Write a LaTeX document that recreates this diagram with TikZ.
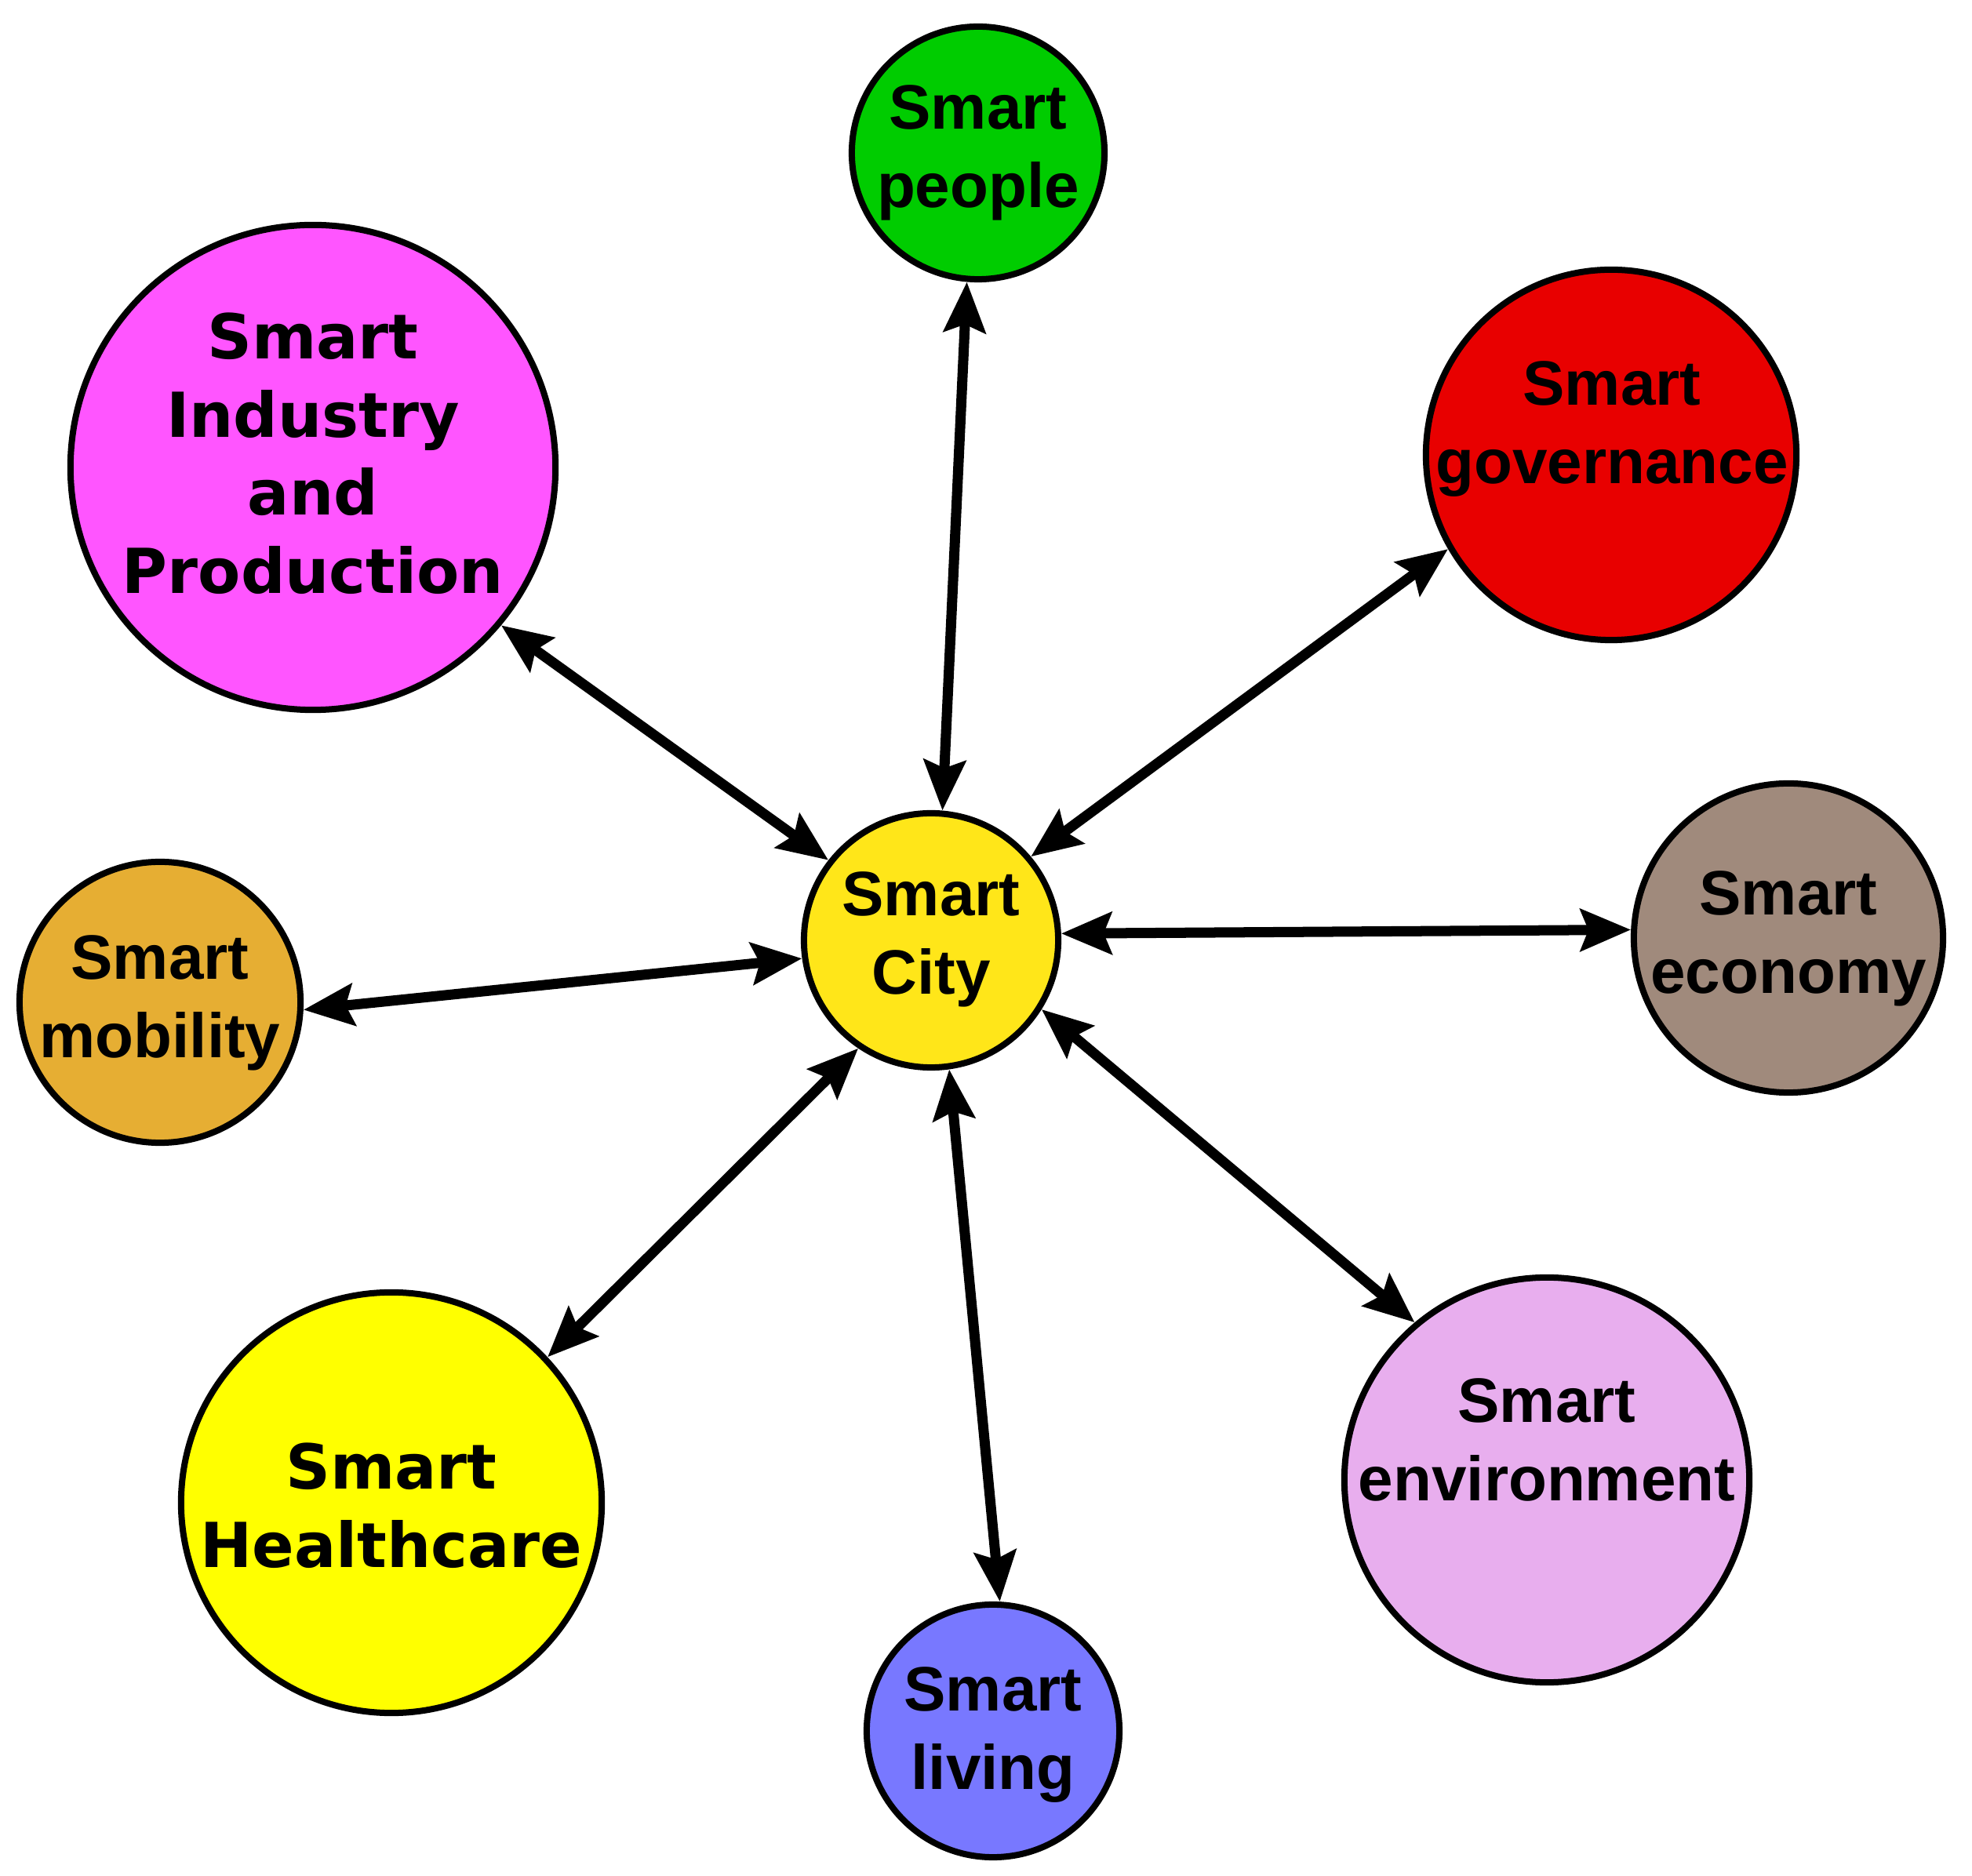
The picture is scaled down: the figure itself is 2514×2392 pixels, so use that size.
\documentclass[tikz,border=0pt]{standalone}
\usepackage{fontspec}
\usetikzlibrary{arrows.meta}
\newfontfamily\arialfont{Liberation Sans}
\newfontfamily\verdfont{DejaVu Sans}
\definecolor{cCity}{RGB}{255,230,25}
\definecolor{cPeople}{RGB}{0,204,0}
\definecolor{cIndustry}{RGB}{255,85,255}
\definecolor{cGov}{RGB}{232,0,0}
\definecolor{cEcon}{RGB}{160,138,124}
\definecolor{cMob}{RGB}{230,174,51}
\definecolor{cHealth}{RGB}{255,255,0}
\definecolor{cLiving}{RGB}{120,120,255}
\definecolor{cEnv}{RGB}{232,174,238}
\tikzset{
  bubble/.style={circle, draw=black, line width=0.08cm, inner sep=0pt},
  lblA/.style={font=\arialfont\bfseries\fontsize{0.8cm}{0.996cm}\selectfont, align=center, inner sep=0pt, anchor=north},
  lblB/.style={font=\verdfont\bfseries\fontsize{0.79cm}{0.996cm}\selectfont, align=center, inner sep=0pt, anchor=north},
  tipstyle/.tip={Stealth[length=0.64cm, width=0.53cm, inset=0.1cm]},
  conn/.style={line width=0.13cm, tipstyle-tipstyle}
}
\begin{document}
\begin{tikzpicture}[x=0.01cm, y=-0.01cm]
\useasboundingbox (0,0) rectangle (2514,2392);
% circles
\node[bubble, fill=cCity, minimum size=3.24cm] (city) at (1187,1199) {};
\node[bubble, fill=cPeople, minimum size=3.22cm] (people) at (1247,195) {};
\node[bubble, fill=cIndustry, minimum size=6.18cm] (industry) at (399,596) {};
\node[bubble, fill=cGov, minimum size=4.72cm] (gov) at (2054,580) {};
\node[bubble, fill=cEcon, minimum size=3.94cm] (econ) at (2280,1196) {};
\node[bubble, fill=cMob, minimum size=3.58cm] (mob) at (204,1278) {};
\node[bubble, fill=cHealth, minimum size=5.36cm] (health) at (499,1916) {};
\node[bubble, fill=cLiving, minimum size=3.22cm] (living) at (1266,2207) {};
\node[bubble, fill=cEnv, minimum size=5.16cm] (env) at (1972,1887) {};
% labels
\node[lblA] (cityT) at (1187,1111) {Smart\\City};
\node[lblA] (peopleT) at (1247,108) {Smart\\people};
\node[lblB] (industryT) at (399,398) {Smart\\Industry\\and\\Production};
\node[lblA] (govT) at (2055,460) {Smart\\governance};
\node[lblA] (econT) at (2280,1110) {Smart\\economy};
\node[lblA] (mobT) at (204,1192) {Smart\\mobility};
\node[lblB] (healthT) at (499,1839) {Smart\\Healthcare};
\node[lblA] (livingT) at (1266,2125) {Smart\\living};
\node[lblA] (envT) at (1972,1757) {Smart\\environment};
% connectors
\draw[conn] (people.-95) -- (city.85);
\draw[conn] (industry.-40.7) -- (city.142.8);
\draw[conn] (gov.-150) -- (city.40.4);
\draw[conn] (econ.177.2) -- (city.3.2);
\draw[conn] (mob.-3.7) -- (city.188.6);
\draw[conn] (health.43.2) -- (city.236.9);
\draw[conn] (city.-82.1) -- (living.87);
\draw[conn] (city.-32.8) -- (env.130.5);
\end{tikzpicture}
\end{document}
